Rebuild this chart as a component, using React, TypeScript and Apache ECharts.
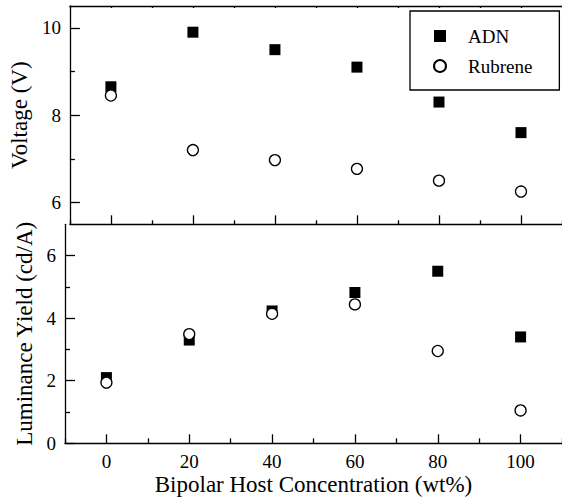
import React, { useEffect, useRef } from "react";
import * as echarts from "echarts";

const concentrations = [0, 20, 40, 60, 80, 100];
const voltageADN = [8.65, 9.9, 9.5, 9.1, 8.3, 7.6];
const voltageRubrene = [8.45, 7.2, 6.97, 6.77, 6.5, 6.25];
const yieldADN = [2.1, 3.3, 4.23, 4.82, 5.5, 3.4];
const yieldRubrene = [1.94, 3.49, 4.14, 4.44, 2.95, 1.05];

const xMajorTicks = [0, 20, 40, 60, 80, 100];
const xMinorTicks = [-10, 10, 30, 50, 70, 90, 110];
const xTopTicks = [-10, 0, 10, 20, 30, 40, 50, 60, 70, 80, 90, 100, 110];
const voltageMajorTicks = [6, 8, 10];
const voltageMinorTicks = [7, 9];
const yieldMajorTicks = [0, 2, 4, 6];
const yieldMinorTicks = [1, 3, 5];

const FONT = "'Liberation Serif', 'Times New Roman', serif";
const BLACK = "#000";

export default function App() {
  const ref = useRef<HTMLDivElement>(null);
  useEffect(() => {
    if (!ref.current) return;
    const chart = echarts.init(ref.current, undefined, { renderer: "svg" });
    const line = { show: true, onZero: false, lineStyle: { color: BLACK, width: 1.3 } };
    const noLine = { show: false, onZero: false };
    const xBase = { type: "value", min: -10, max: 110, splitLine: { show: false } };
    const pairs = (ys: number[]) => concentrations.map((x, i) => [x, ys[i]]);
    const option: any = {
      animation: false,
      backgroundColor: "#fff",
      grid: [
        { left: 65, top: 6, height: 218.3, right: -4.5 },
        { left: 65, top: 224.3, height: 219, right: -4.5 },
      ],
      legend: {
        orient: "vertical",
        left: 410,
        top: 11,
        padding: [15, 27, 14, 23],
        itemGap: 10,
        itemWidth: 12,
        itemHeight: 12,
        borderColor: BLACK,
        borderWidth: 1.3,
        data: ["ADN", "Rubrene"],
        textStyle: { fontFamily: FONT, fontSize: 19, color: BLACK, lineHeight: 20, padding: [0, 0, 0, 17] },
      },
      xAxis: [
        {
          ...xBase, gridIndex: 0, position: "bottom", axisLine: line,
          axisTick: { show: true, inside: true, length: 9, customValues: xMajorTicks, lineStyle: { color: BLACK, width: 1.3 } },
          axisLabel: { show: false },
        },
        {
          ...xBase, gridIndex: 0, position: "bottom", axisLine: noLine,
          axisTick: { show: true, inside: true, length: 4, customValues: xMinorTicks, lineStyle: { color: BLACK, width: 1.3 } },
          axisLabel: { show: false },
        },
        {
          ...xBase, gridIndex: 0, position: "top", axisLine: line,
          axisTick: { show: true, inside: true, length: 2, customValues: xTopTicks, lineStyle: { color: BLACK, width: 1.3 } },
          axisLabel: { show: false },
        },
        {
          ...xBase, gridIndex: 1, position: "bottom", axisLine: line,
          axisTick: { show: true, inside: true, length: 9, customValues: xMajorTicks, lineStyle: { color: BLACK, width: 1.3 } },
          axisLabel: { show: true, customValues: xMajorTicks, margin: 9, fontFamily: FONT, fontSize: 19, color: BLACK },
          name: "Bipolar Host Concentration (wt%)",
          nameLocation: "middle",
          nameGap: 30,
          nameTextStyle: { fontFamily: FONT, fontSize: 23, color: BLACK },
        },
        {
          ...xBase, gridIndex: 1, position: "bottom", axisLine: noLine,
          axisTick: { show: true, inside: true, length: 5, customValues: xMinorTicks, lineStyle: { color: BLACK, width: 1.3 } },
          axisLabel: { show: false },
        },
      ],
      yAxis: [
        {
          type: "value", gridIndex: 0, min: 5.5, max: 10.5, position: "left", splitLine: { show: false }, axisLine: line,
          axisTick: { show: true, inside: true, length: 10, customValues: voltageMajorTicks, lineStyle: { color: BLACK, width: 1.3 } },
          axisLabel: { show: true, customValues: voltageMajorTicks, margin: 9, fontFamily: FONT, fontSize: 19, color: BLACK },
          name: "Voltage (V)",
          nameLocation: "middle",
          nameGap: 25,
          nameTextStyle: { fontFamily: FONT, fontSize: 23, color: BLACK },
        },
        {
          type: "value", gridIndex: 0, min: 5.5, max: 10.5, position: "left", splitLine: { show: false }, axisLine: noLine,
          axisTick: { show: true, inside: true, length: 5, customValues: voltageMinorTicks, lineStyle: { color: BLACK, width: 1.3 } },
          axisLabel: { show: false },
        },
        {
          type: "value", gridIndex: 1, min: 0, max: 7, position: "left", splitLine: { show: false }, axisLine: line,
          axisTick: { show: true, inside: true, length: 10, customValues: yieldMajorTicks, lineStyle: { color: BLACK, width: 1.3 } },
          axisLabel: { show: true, customValues: yieldMajorTicks, margin: 9, fontFamily: FONT, fontSize: 19, color: BLACK },
          name: "Luminance Yield (cd/A)",
          nameLocation: "middle",
          nameGap: 25,
          nameTextStyle: { fontFamily: FONT, fontSize: 23, color: BLACK },
        },
        {
          type: "value", gridIndex: 1, min: 0, max: 7, position: "left", splitLine: { show: false }, axisLine: noLine,
          axisTick: { show: true, inside: true, length: 5, customValues: yieldMinorTicks, lineStyle: { color: BLACK, width: 1.3 } },
          axisLabel: { show: false },
        },
      ],
      series: [
        {
          name: "ADN", type: "scatter", xAxisIndex: 0, yAxisIndex: 0, symbol: "rect", symbolSize: 11,
          itemStyle: { color: BLACK, opacity: 1 }, data: pairs(voltageADN),
        },
        {
          name: "Rubrene", type: "scatter", xAxisIndex: 0, yAxisIndex: 0, symbol: "circle", symbolSize: 11,
          itemStyle: { color: "#fff", borderColor: BLACK, borderWidth: 1.3, opacity: 1 }, data: pairs(voltageRubrene),
        },
        {
          name: "ADN", type: "scatter", xAxisIndex: 3, yAxisIndex: 2, symbol: "rect", symbolSize: 11,
          itemStyle: { color: BLACK, opacity: 1 }, data: pairs(yieldADN),
        },
        {
          name: "Rubrene", type: "scatter", xAxisIndex: 3, yAxisIndex: 2, symbol: "circle", symbolSize: 11,
          itemStyle: { color: "#fff", borderColor: BLACK, borderWidth: 1.3, opacity: 1 }, data: pairs(yieldRubrene),
        },
      ],
    };
    chart.setOption(option);
    return () => chart.dispose();
  }, []);
  return (
    <div
      ref={ref}
      style={{ position: "absolute", left: 0, top: 0, width: 562, height: 498, overflow: "hidden" }}
    />
  );
}
